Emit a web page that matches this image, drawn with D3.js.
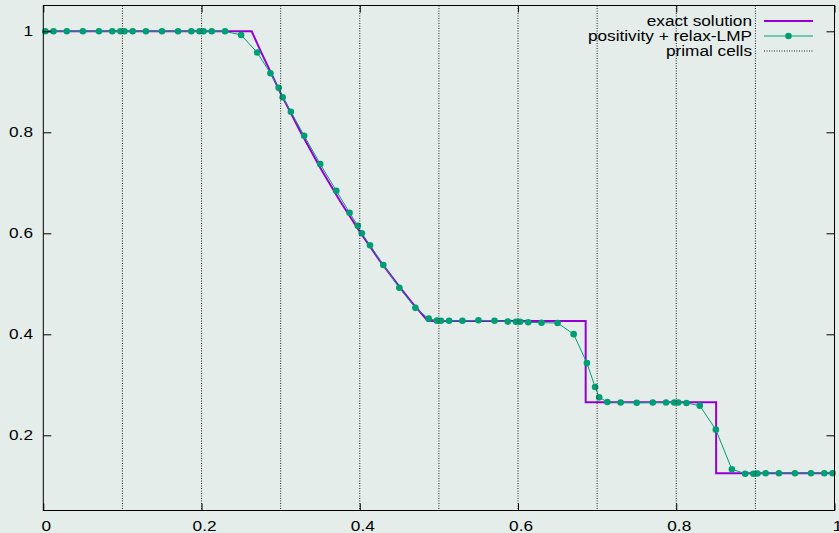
<!DOCTYPE html>
<html>
<head>
<meta charset="utf-8">
<script src="https://cdn.jsdelivr.net/npm/d3@7"></script>
<style>
  html, body { margin: 0; padding: 0; background: #e5edeb; }
  svg { display: block; }
  text { font-family: "Liberation Sans", Arial, sans-serif; font-size: 14px; fill: #000; }
</style>
</head>
<body>
<script>
// ---- data ----
const exactX = [0, 0.2634, 0.275, 0.30, 0.325, 0.35, 0.375, 0.40, 0.425, 0.45, 0.465, 0.486, 0.6855, 0.6855, 0.8504, 0.8504, 1];
const exactY = [1, 1, 0.9597, 0.8774, 0.8010, 0.7300, 0.6640, 0.6030, 0.5464, 0.4943, 0.4649, 0.4263, 0.4263, 0.2656, 0.2656, 0.125, 0.125];

const numX = [
  0.00254, 0.01292, 0.02971, 0.05, 0.07029, 0.08708, 0.09746,
  0.10254, 0.11292, 0.12971, 0.15, 0.17029, 0.18708, 0.19746,
  0.20254, 0.21292, 0.22971, 0.25, 0.27029, 0.28708, 0.29746,
  0.30254, 0.31292, 0.32971, 0.35, 0.37029, 0.38708, 0.39746,
  0.40254, 0.41292, 0.42971, 0.45, 0.47029, 0.48708, 0.49746,
  0.50254, 0.51292, 0.52971, 0.55, 0.57029, 0.58708, 0.59746,
  0.60254, 0.61292, 0.62971, 0.65, 0.67029, 0.68708, 0.69746,
  0.70254, 0.71292, 0.72971, 0.75, 0.77029, 0.78708, 0.79746,
  0.80254, 0.81292, 0.82971, 0.85, 0.87029, 0.88708, 0.89746,
  0.90254, 0.91292, 0.92971, 0.95, 0.97029, 0.98708, 0.99746
];
const numY = [
  1, 1, 1, 1, 1, 1, 1,
  1, 1, 1, 1, 1, 1, 1,
  1, 1, 1, 0.9927, 0.958, 0.917, 0.888,
  0.8693, 0.8408, 0.7933, 0.7372, 0.6844, 0.6408, 0.6150,
  0.6000, 0.5762, 0.5372, 0.4923, 0.4524, 0.4310, 0.4270,
  0.4269, 0.4269, 0.4269, 0.4277, 0.4269, 0.4252, 0.4250,
  0.4250, 0.4238, 0.4230, 0.4224, 0.4003, 0.3430, 0.2956,
  0.2752, 0.2659, 0.2650, 0.2646, 0.2650, 0.2650, 0.2650,
  0.2650, 0.2640, 0.2587, 0.2112, 0.1327, 0.1240, 0.1240,
  0.1245, 0.125, 0.125, 0.125, 0.125, 0.125, 0.125
];

const cellEdges = [0.1, 0.2, 0.3, 0.4, 0.5, 0.6, 0.7, 0.8, 0.9];
const xTicks = [0, 0.2, 0.4, 0.6, 0.8, 1];
const xTickLabels = ["0", "0.2", "0.4", "0.6", "0.8", "1"];
const yTicks = [0.2, 0.4, 0.6, 0.8, 1];
const yTickLabels = ["0.2", "0.4", "0.6", "0.8", "1"];
const legendLabels = ["exact solution", "positivity + relax-LMP", "primal cells"];

// ---- layout ----
const W = 839, H = 533;
const L = 43.3, R = 834.5, T = 5.5, B = 510.5;
const SX = 1.23; // horizontal text stretch
const purple = "#9400d3", green = "#009e73";

const svg = d3.select("body").append("svg").attr("width", W).attr("height", H);
svg.append("rect").attr("width", W).attr("height", H).attr("fill", "#e5edeb");

const x = d3.scaleLinear().domain([0, 1]).range([L, R]);
const y = d3.scaleLinear().domain([0.0511, 1.0511]).range([B, T]);

// exact solution
const exact = exactX.map((d, i) => [d, exactY[i]]);
svg.append("path").datum(exact)
  .attr("fill", "none").attr("stroke", purple).attr("stroke-width", 2)
  .attr("stroke-linejoin", "miter")
  .attr("d", d3.line().x(d => x(d[0])).y(d => y(d[1])));

// numerical solution
const num = numX.map((d, i) => [d, numY[i]]);
svg.append("path").datum(num)
  .attr("fill", "none").attr("stroke", green).attr("stroke-width", 1)
  .attr("d", d3.line().x(d => x(d[0])).y(d => y(d[1])));
svg.append("g").selectAll("circle").data(num).join("circle")
  .attr("cx", d => x(d[0])).attr("cy", d => y(d[1])).attr("r", 3.3)
  .attr("fill", green);

// primal cells
svg.append("g").selectAll("line").data(cellEdges).join("line")
  .attr("x1", d => x(d)).attr("x2", d => x(d))
  .attr("y1", T).attr("y2", B)
  .attr("stroke", "#222").attr("stroke-width", 1)
  .attr("stroke-dasharray", "1,1.5");

// axes
const gx = svg.append("g").attr("transform", `translate(0,${B})`)
  .call(d3.axisBottom(x).tickValues(xTicks).tickFormat((d, i) => xTickLabels[i])
    .tickSizeInner(-7).tickSizeOuter(0).tickPadding(11));
const gxt = svg.append("g").attr("transform", `translate(0,${T})`)
  .call(d3.axisTop(x).tickValues(xTicks).tickFormat("").tickSizeInner(-7).tickSizeOuter(0));
const gy = svg.append("g").attr("transform", `translate(${L},0)`)
  .call(d3.axisLeft(y).tickValues(yTicks).tickFormat((d, i) => yTickLabels[i])
    .tickSizeInner(-8).tickSizeOuter(0).tickPadding(8.4));
const gyr = svg.append("g").attr("transform", `translate(${R},0)`)
  .call(d3.axisRight(y).tickValues(yTicks).tickFormat("").tickSizeInner(-8).tickSizeOuter(0));

[gx, gxt, gy, gyr].forEach(g => {
  g.select(".domain").remove();
  g.selectAll("line").attr("stroke", "#000").attr("stroke-width", 1);
  g.selectAll("text").attr("font-family", null).attr("font-size", null).attr("fill", "#000");
});
gx.selectAll("text").attr("transform", `translate(2.5,0) scale(${SX},1)`);
gy.selectAll("text").attr("transform", `scale(${SX},1)`);

// border
svg.append("rect").attr("x", L).attr("y", T).attr("width", R - L).attr("height", B - T)
  .attr("fill", "none").attr("stroke", "#000").attr("stroke-width", 1);

// legend
const lg = svg.append("g");
const textRight = 752, sx1 = 764, sx2 = 813;
const baselines = [26, 41, 56];
legendLabels.forEach((lab, i) => {
  lg.append("text").attr("text-anchor", "end")
    .attr("transform", `translate(${textRight},${baselines[i]}) scale(${SX},1)`)
    .text(lab);
});
lg.append("line").attr("x1", sx1).attr("x2", sx2).attr("y1", baselines[0] - 5).attr("y2", baselines[0] - 5)
  .attr("stroke", purple).attr("stroke-width", 2);
lg.append("line").attr("x1", sx1).attr("x2", sx2).attr("y1", baselines[1] - 5).attr("y2", baselines[1] - 5)
  .attr("stroke", green).attr("stroke-width", 1);
lg.append("circle").attr("cx", (sx1 + sx2) / 2).attr("cy", baselines[1] - 5).attr("r", 3.3).attr("fill", green);
lg.append("line").attr("x1", sx1).attr("x2", sx2).attr("y1", baselines[2] - 5).attr("y2", baselines[2] - 5)
  .attr("stroke", "#222").attr("stroke-width", 1).attr("stroke-dasharray", "1,1.5");
</script>
</body>
</html>
